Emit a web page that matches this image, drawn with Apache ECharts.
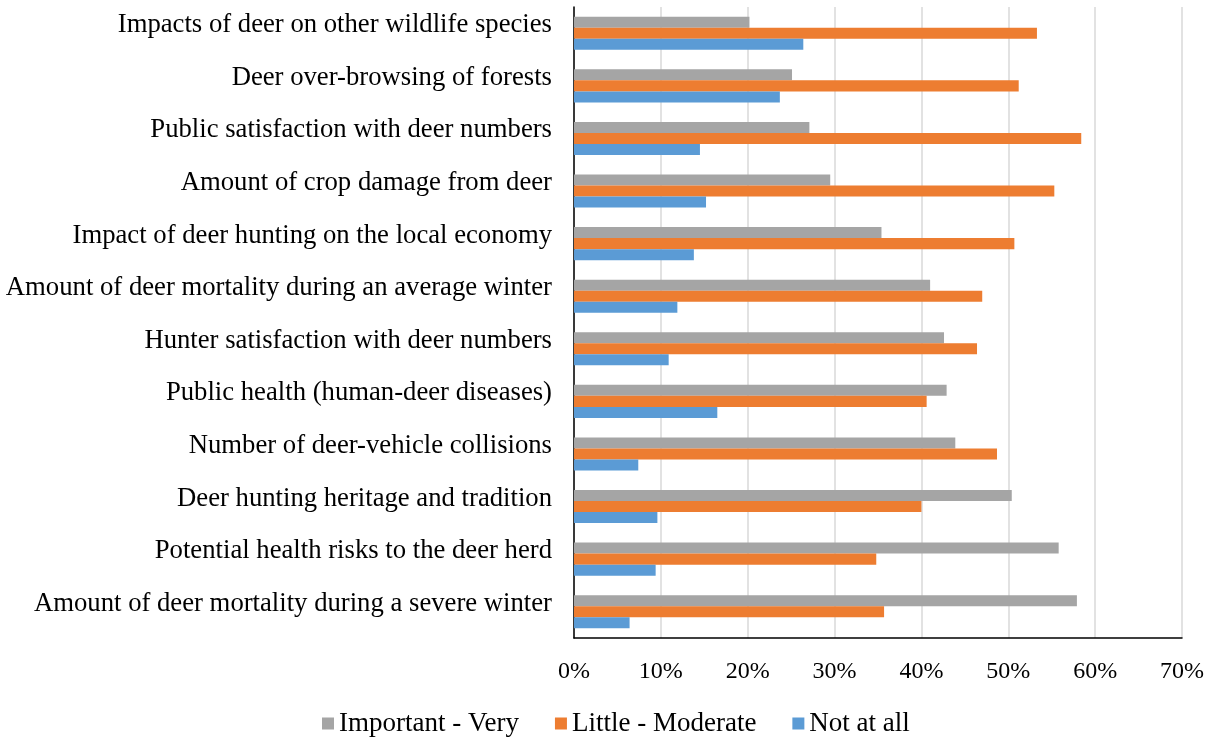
<!DOCTYPE html>
<html><head><meta charset="utf-8">
<script src="https://cdn.jsdelivr.net/npm/echarts@6/dist/echarts.min.js"></script>
<style>html,body{margin:0;padding:0;background:#fff}#c{width:1211px;height:737px}</style>
</head><body><div id="c"></div>
<script>
const categories = [
  'Amount of deer mortality during a severe winter',
  'Potential health risks to the deer herd',
  'Deer hunting heritage and tradition',
  'Number of deer-vehicle collisions',
  'Public health (human-deer diseases)',
  'Hunter satisfaction with deer numbers',
  'Amount of deer mortality during an average winter',
  'Impact of deer hunting on the local economy',
  'Amount of crop damage from deer',
  'Public satisfaction with deer numbers',
  'Deer over-browsing of forests',
  'Impacts of deer on other wildlife species'
];
const importantVery = [57.9, 55.8, 50.4, 43.9, 42.9, 42.6, 41.0, 35.4, 29.5, 27.1, 25.1, 20.2];
const littleModerate = [35.7, 34.8, 40.0, 48.7, 40.6, 46.4, 47.0, 50.7, 55.3, 58.4, 51.2, 53.3];
const notAtAll = [6.4, 9.4, 9.6, 7.4, 16.5, 10.9, 11.9, 13.8, 15.2, 14.5, 23.7, 26.4];
const xTicks = [0, 10, 20, 30, 40, 50, 60, 70];

const font = 'Liberation Serif';
const chart = echarts.init(document.getElementById('c'));
chart.setOption({
  animation: false,
  textStyle: {fontFamily: font},
  grid: {left: 574, right: 29, top: 7, bottom: 99, containLabel: false},
  legend: {
    data: ['Important - Very', 'Little - Moderate', 'Not at all'],
    top: 710, left: 322, padding: 0,
    icon: 'rect', itemWidth: 12, itemHeight: 12, itemGap: 36,
    textStyle: {fontFamily: font, fontSize: 27, color: '#000'}
  },
  xAxis: {
    type: 'value', min: xTicks[0], max: xTicks[xTicks.length-1], interval: 10,
    axisLabel: {formatter: v => v + '%', fontFamily: font, fontSize: 24, color: '#000', margin: 22},
    axisLine: {show: true, lineStyle: {color: '#000', width: 1.5}},
    axisTick: {show: false},
    splitLine: {show: true, lineStyle: {color: '#D9D9D9', width: 1.5}}
  },
  yAxis: {
    type: 'category', data: categories,
    axisLabel: {fontFamily: font, fontSize: 26.7, color: '#000', margin: 22, interval: 0,
      verticalAlign: 'bottom', lineHeight: 16},
    axisLine: {show: true, lineStyle: {color: '#000', width: 1.5}},
    axisTick: {show: false}
  },
  series: [
    {name: 'Important - Very', type: 'bar', data: importantVery, itemStyle: {color: '#A5A5A5'}, barGap: '0%', barCategoryGap: '37%'},
    {name: 'Little - Moderate', type: 'bar', data: littleModerate, itemStyle: {color: '#ED7D31'}, barGap: '0%', barCategoryGap: '37%'},
    {name: 'Not at all', type: 'bar', data: notAtAll, itemStyle: {color: '#5B9BD5'}, barGap: '0%', barCategoryGap: '37%'}
  ]
});
</script></body></html>
